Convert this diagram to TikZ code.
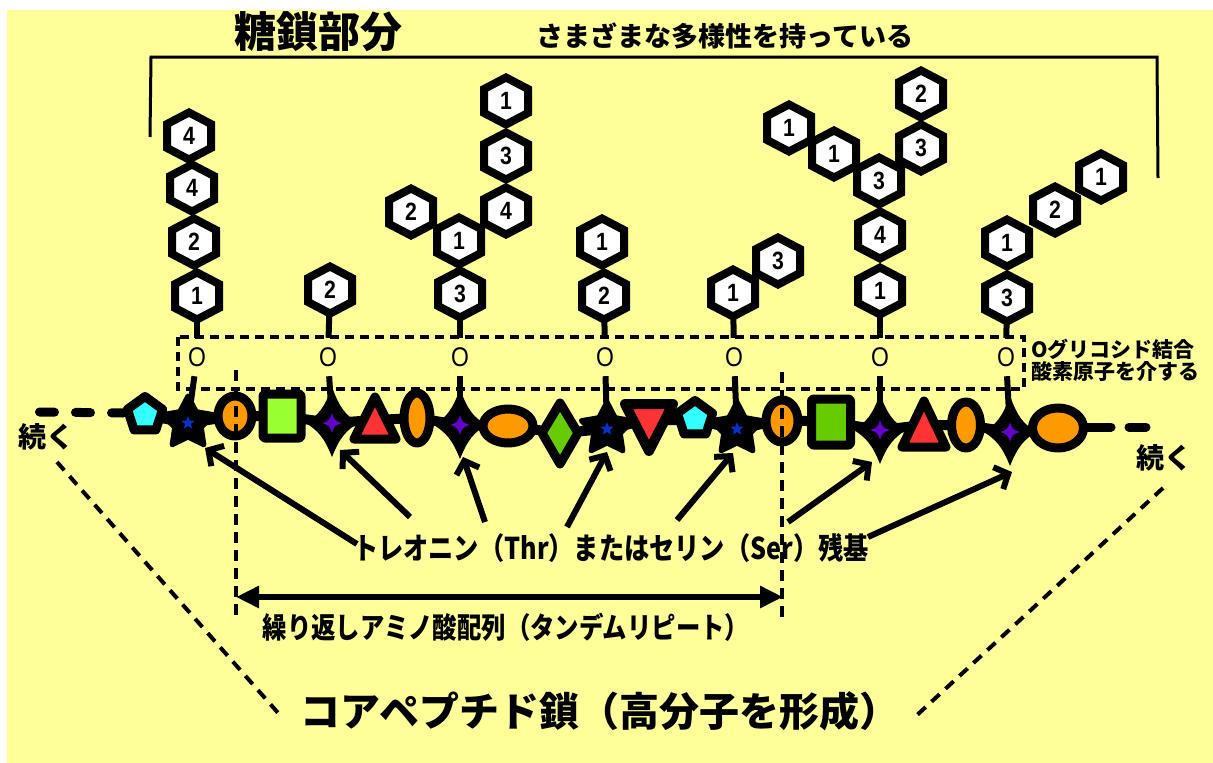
\documentclass[tikz,border=0pt]{standalone}
\usepackage{fontspec}
\usetikzlibrary{shapes.geometric,arrows.meta}
\newfontfamily\jpA{Noto Sans CJK JP}
\newfontfamily\jpB{Noto Sans CJK JP}[FakeStretch=0.84]
\newfontfamily\digf{Liberation Sans}[FakeStretch=0.85]
\definecolor{bg}{HTML}{FFFF99}
\definecolor{cy}{HTML}{33FFFF}
\definecolor{org}{HTML}{FF9900}
\definecolor{rd}{HTML}{FF3333}
\definecolor{lg}{HTML}{99FF33}
\definecolor{dg}{HTML}{66CC00}
\definecolor{bl}{HTML}{0033CC}
\definecolor{pu}{HTML}{6600CC}
\tikzset{
  hexline/.style={draw=black, line width=8pt, fill=white, line join=miter},
  hexlab/.style={circle, inner sep=0pt, minimum size=50pt,
    font=\digf\bfseries\fontsize{25}{25}\selectfont},
  oat/.style={inner sep=0pt, minimum height=38pt, font=\digf\fontsize{27}{27}\selectfont},
  stem/.style={line width=6pt},
  arr/.style={line width=6pt, -{Straight Barb[length=11pt,width=24pt]}},
  sh/.style={draw=black, line width=9pt, line join=round},
  star5/.pic={
    \filldraw[black, line width=5pt, line join=round] (-90:27) -- (-54:14) -- (-18:27) -- (18:14) -- (54:27) -- (90:14) -- (126:27) -- (162:14) -- (198:27) -- (234:14) -- cycle;
    \fill[bl] (-90:7) -- (-54:3) -- (-18:7) -- (18:3) -- (54:7) -- (90:3) -- (126:7) -- (162:3) -- (198:7) -- (234:3) -- cycle;
  },
  spark/.pic={
    \fill[black] (0,-36) .. controls (8,-14) and (14,-8) .. (26,0) .. controls (14,8) and (8,14) .. (0,34) .. controls (-8,14) and (-14,8) .. (-26,0) .. controls (-14,-8) and (-8,-14) .. (0,-36) -- cycle;
    \fill[pu] (0,-10) .. controls (2,-3) and (3,-2) .. (10,0) .. controls (3,2) and (2,3) .. (0,10) .. controls (-2,3) and (-3,2) .. (-10,0) .. controls (-3,-2) and (-2,-3) .. (0,-10) -- cycle;
  }
}
\newcommand{\mkhex}[3]{%
  \draw[hexline, shift={(#2)}] (0,-23.5) -- (22,-12) -- (22,12) -- (0,23.5) -- (-22,12) -- (-22,-12) -- cycle;
  \node[hexlab] (#1) at (#2) {#3};}
\begin{document}
\begin{tikzpicture}[x=1pt,y=-1pt]
\useasboundingbox (0,0) rectangle (1213,763);
\fill[white] (0,0) rectangle (1213,763);
\fill[bg] (7,10) rectangle (1213,763);

% titles
\node[font=\jpA\bfseries\fontsize{42}{42}\selectfont, inner sep=0pt] (title) at (318,32) {糖鎖部分};
\node[font=\jpA\bfseries\fontsize{27}{27}\selectfont, inner sep=0pt] (sub) at (725,36) {さまざまな多様性を持っている};
\draw[line width=3pt] (150,137) -- (151,57) -- (1157,57) -- (1158,178);

% dashed box for O-glycosidic bond
\draw[line width=4pt, dash pattern=on 9pt off 6pt] (178,337) rectangle (1024,389);
\node[font=\jpA\bfseries\fontsize{21}{21}\selectfont, anchor=west, inner sep=0pt] (ob1) at (1031,349) {Oグリコシド結合};
\node[font=\jpA\bfseries\fontsize{21}{21}\selectfont, anchor=west, inner sep=0pt] (ob2) at (1031,372) {酸素原子を介する};

% hexagons
\mkhex{h1a}{197,296}{1}
\mkhex{h1b}{194,242}{2}
\mkhex{h1c}{192,188}{4}
\mkhex{h1d}{189,136}{4}
\mkhex{h2a}{330,290}{2}
\mkhex{h3a}{460,294}{3}
\mkhex{h3b}{459,241}{1}
\mkhex{h3c}{411,212}{2}
\mkhex{h3d}{506,211}{4}
\mkhex{h3e}{506,156}{3}
\mkhex{h3f}{506,101}{1}
\mkhex{h4a}{604,296}{2}
\mkhex{h4b}{602,242}{1}
\mkhex{h5a}{733,293}{1}
\mkhex{h5b}{778,261}{3}
\mkhex{h6a}{880,291}{1}
\mkhex{h6b}{880,235}{4}
\mkhex{h6c}{879,181}{3}
\mkhex{h6d}{834,154}{1}
\mkhex{h6e}{789,128}{1}
\mkhex{h6f}{921,148}{3}
\mkhex{h6g}{921,94}{2}
\mkhex{h7a}{1007,298}{3}
\mkhex{h7b}{1007,243}{1}
\mkhex{h7c}{1055,210}{2}
\mkhex{h7d}{1101,177}{1}

% O atoms
\node[oat] (o1) at (197,357) {O};
\node[oat] (o2) at (328,357) {O};
\node[oat] (o3) at (460,357) {O};
\node[oat] (o4) at (605,357) {O};
\node[oat] (o5) at (734,357) {O};
\node[oat] (o6) at (880,357) {O};
\node[oat] (o7) at (1006,357) {O};

% residue positions
\coordinate (s1) at (188,423);
\coordinate (s2) at (332,423);
\coordinate (s3) at (460,425);
\coordinate (s4) at (607,429);
\coordinate (s5) at (737,429);
\coordinate (s6) at (880,430);
\coordinate (s7) at (1010,432);

% stems
\foreach \h/\o/\s in {h1a/o1/s1,h2a/o2/s2,h3a/o3/s3,h4a/o4/s4,h5a/o5/s5,h6a/o6/s6,h7a/o7/s7}{
  \draw[stem] (\h) -- (\o);
  \draw[stem] (\o) -- (\s);
}

% backbone
\draw[line width=9pt, dash pattern=on 15pt off 21pt, line cap=round] (39.5,412) -- (123,413);
\draw[line width=9pt, dash pattern=on 28pt off 18pt, line cap=round] (1083,427) -- (1146,427);
\draw[line width=10pt] (145,415) -- (s1) -- (235,416) -- (282,416) -- (s2) -- (375,420) -- (417,418) -- (s3) -- (508,426) -- (560,433) -- (s4) -- (648,420) -- (694,420) -- (s5) -- (782,420) -- (831,422) -- (s6) -- (924,425) -- (966,425) -- (s7) -- (1058,428);

% residues
\draw[sh, fill=cy, shift={(145,415)}] (-90:18.5) -- (-18:18.5) -- (54:18.5) -- (126:18.5) -- (198:18.5) -- cycle;
\draw[sh, fill=org] (235,416) ellipse [x radius=17pt, y radius=20pt];
\draw[sh, fill=lg, rounded corners=2pt] (263,394) rectangle (301,438);
\draw[sh, fill=rd] (375,397) -- (396,439) -- (354,439) -- cycle;
\draw[sh, fill=org] (417,418) ellipse [x radius=13pt, y radius=25pt];
\draw[sh, fill=org] (508,426) ellipse [x radius=25pt, y radius=17pt];
\draw[sh, fill=dg] (560,403) -- (578,433) -- (560,464) -- (542,433) -- cycle;
\draw[sh, line width=10pt, fill=rd] (625,404) -- (673,404) -- (649,451) -- cycle;
\draw[sh, fill=cy, shift={(695,419)}] (-90:18.5) -- (-18:18.5) -- (54:18.5) -- (126:18.5) -- (198:18.5) -- cycle;
\draw[sh, fill=org] (782,421) ellipse [x radius=16pt, y radius=21pt];
\draw[sh, fill=dg, rounded corners=2pt] (811.5,399) rectangle (850.5,445);
\draw[sh, fill=rd] (924,401) -- (946,447) -- (902,447) -- cycle;
\draw[sh, fill=org] (966,425) ellipse [x radius=14.5pt, y radius=23pt];
\draw[sh, fill=org] (1058,428) ellipse [x radius=25.5pt, y radius=20pt];

\pic at (s1) {star5};
\pic at (s4) {star5};
\pic at (s5) {star5};
\pic at (s2) {spark};
\pic at (s3) {spark};
\pic at (s6) {spark};
\pic at (s7) {spark};

% continuation labels
\node[font=\jpA\bfseries\fontsize{28}{28}\selectfont, inner sep=0pt] (cl) at (47,437) {続く};
\node[font=\jpA\bfseries\fontsize{28}{28}\selectfont, inner sep=0pt] (cr) at (1164,458) {続く};

% repeat markers
\draw[line width=4pt, dash pattern=on 11pt off 7pt] (236,370) -- (236,617);
\draw[line width=4pt, dash pattern=on 11pt off 7pt] (782,372) -- (782,617);
\coordinate (rl) at (236,597);
\coordinate (rr) at (783,597);
\draw[line width=6pt, {Triangle[length=23pt,width=21pt]}-{Triangle[length=23pt,width=21pt]}] (rl) -- (rr);
\node[font=\jpB\bfseries\fontsize{29}{29}\selectfont, inner sep=0pt] (rep) at (506,627) {繰り返しアミノ酸配列（タンデムリピート）};

% Thr/Ser label and arrows
\node[font=\jpB\bfseries\fontsize{30}{30}\selectfont, inner sep=0pt] (thr) at (611,548) {トレオニン（Thr）またはセリン（Ser）残基};
\coordinate (t1) at (357,544); \coordinate (p1) at (205,448);
\coordinate (t2) at (410,517); \coordinate (p2) at (340,450);
\coordinate (t3) at (485,522); \coordinate (p3) at (463,457);
\coordinate (t4) at (567,527); \coordinate (p4) at (607,452);
\coordinate (t5) at (677,520); \coordinate (p5) at (733,453);
\coordinate (t6) at (788,522); \coordinate (p6) at (872,462);
\coordinate (t7) at (868,537); \coordinate (p7) at (1012,472);
\foreach \i in {1,...,7}{\draw[arr] (t\i) -- (p\i);}

% core peptide
\node[font=\jpA\bfseries\fontsize{40}{40}\selectfont, inner sep=0pt] (core) at (600,711) {コアペプチド鎖（高分子を形成）};
\coordinate (dl1) at (57,462); \coordinate (dl2) at (279,714);
\coordinate (dr1) at (1163,488); \coordinate (dr2) at (916,716);
\draw[line width=4pt, dash pattern=on 11pt off 8pt] (dl1) -- (dl2);
\draw[line width=4pt, dash pattern=on 11pt off 8pt] (dr1) -- (dr2);
\end{tikzpicture}
\end{document}
